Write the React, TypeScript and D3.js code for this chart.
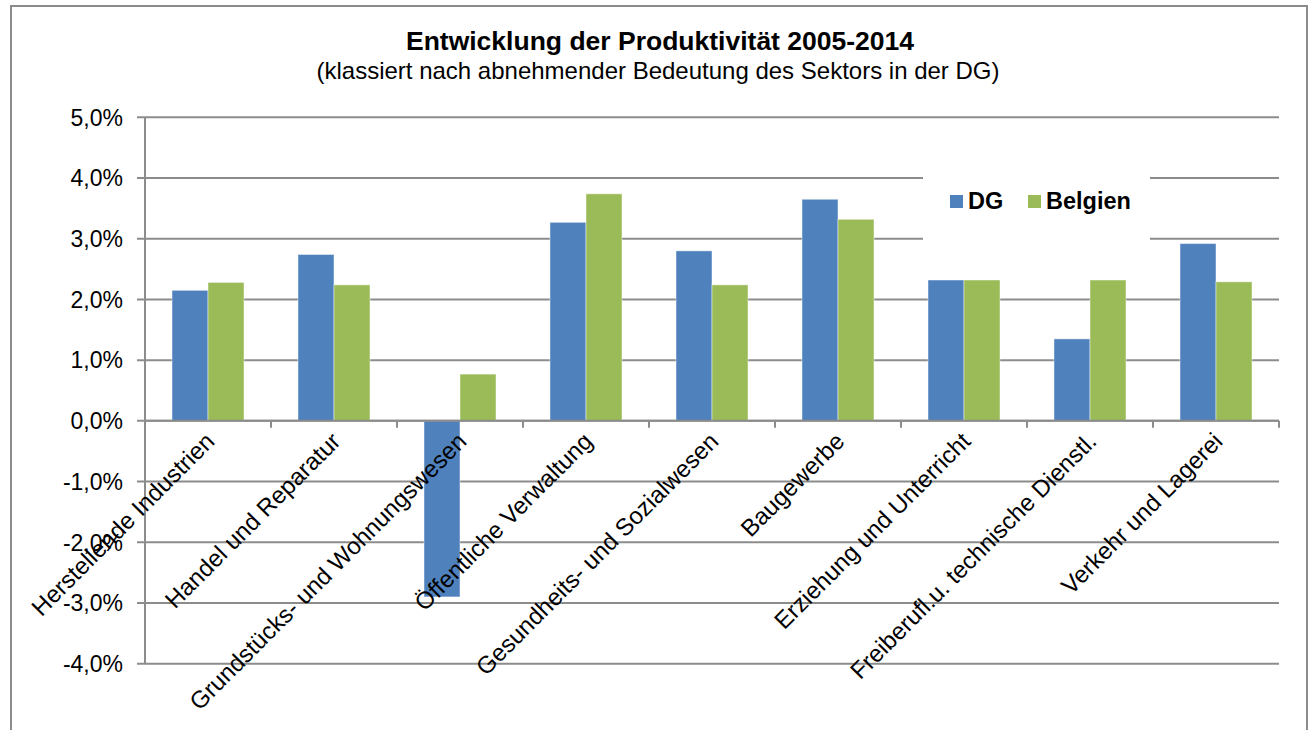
import React, { useEffect, useRef } from 'react';
import * as d3 from 'd3';

// Sektoren (klassiert nach abnehmender Bedeutung in der DG)
const categories = [
  'Herstellende Industrien',
  'Handel und Reparatur',
  'Grundstücks- und Wohnungswesen',
  'Öffentliche Verwaltung',
  'Gesundheits- und Sozialwesen',
  'Baugewerbe',
  'Erziehung und Unterricht',
  'Freiberufl.u. technische Dienstl.',
  'Verkehr und Lagerei',
];

const seriesNames = ['DG', 'Belgien'];
const dgValues = [2.15, 2.74, -2.9, 3.27, 2.8, 3.65, 2.32, 1.35, 2.92];
const belgienValues = [2.28, 2.24, 0.77, 3.74, 2.24, 3.32, 2.32, 2.32, 2.29];
const yTicks = [5, 4, 3, 2, 1, 0, -1, -2, -3, -4];

const colors = ['#4F81BD', '#9BBB59'];
const FONT = '"Liberation Sans", Arial, sans-serif';

const W = 1311;
const H = 730;

const Chart: React.FC = () => {
  const svgRef = useRef<SVGSVGElement | null>(null);

  useEffect(() => {
    if (!svgRef.current) return;
    const svg = d3.select(svgRef.current);
    svg.selectAll('*').remove();

    const left = 145;
    const right = 1279;
    const top = 117.3;
    const bottom = 663.7;

    const y = d3.scaleLinear().domain([-4, 5]).range([bottom, top]);
    const x0 = d3.scaleBand<string>().domain(categories).range([left, right]).padding(0);
    const x1 = d3
      .scaleBand<string>()
      .domain(seriesNames)
      .range([0, x0.bandwidth()])
      .paddingInner(0)
      .paddingOuter(0.75);

    // outer frame
    svg
      .append('rect')
      .attr('x', 11)
      .attr('y', 6)
      .attr('width', 1296)
      .attr('height', 760)
      .attr('fill', '#fff')
      .attr('stroke', '#8c8c8c')
      .attr('stroke-width', 2);

    // gridlines
    svg
      .append('g')
      .selectAll('line')
      .data(yTicks)
      .enter()
      .append('line')
      .attr('x1', left - 8)
      .attr('x2', right)
      .attr('y1', (d) => y(d))
      .attr('y2', (d) => y(d))
      .attr('stroke', '#8c8c8c')
      .attr('stroke-width', 2);

    // y axis line
    svg
      .append('line')
      .attr('x1', left)
      .attr('x2', left)
      .attr('y1', top)
      .attr('y2', bottom)
      .attr('stroke', '#8c8c8c')
      .attr('stroke-width', 2);

    // y tick labels
    svg
      .append('g')
      .selectAll('text')
      .data(yTicks)
      .enter()
      .append('text')
      .attr('x', 123)
      .attr('y', (d) => y(d))
      .attr('dy', '0.36em')
      .attr('text-anchor', 'end')
      .attr('font-family', FONT)
      .attr('font-size', 23)
      .attr('fill', '#000')
      .text((d) => d.toFixed(1).replace('.', ',') + '%');

    // bars
    const values = [dgValues, belgienValues];
    const group = svg
      .append('g')
      .selectAll('g')
      .data(categories)
      .enter()
      .append('g')
      .attr('transform', (d) => `translate(${x0(d)},0)`);

    group
      .selectAll('rect')
      .data((_, i) => seriesNames.map((s, k) => ({ s, v: values[k][i], k })))
      .enter()
      .append('rect')
      .attr('x', (d) => x1(d.s) as number)
      .attr('width', x1.bandwidth())
      .attr('y', (d) => y(Math.max(0, d.v)))
      .attr('height', (d) => Math.abs(y(d.v) - y(0)))
      .attr('fill', (d) => colors[d.k])
      .attr('stroke', 'rgba(255,255,255,0.45)')
      .attr('stroke-width', 1);

    // x axis at 0 with ticks
    svg
      .append('line')
      .attr('x1', left)
      .attr('x2', right)
      .attr('y1', y(0))
      .attr('y2', y(0))
      .attr('stroke', '#8c8c8c')
      .attr('stroke-width', 2);

    const boundaries = categories.map((c) => x0(c) as number).concat([right]);
    svg
      .append('g')
      .selectAll('line')
      .data(boundaries)
      .enter()
      .append('line')
      .attr('x1', (d) => d)
      .attr('x2', (d) => d)
      .attr('y1', y(0))
      .attr('y2', y(0) + 7)
      .attr('stroke', '#8c8c8c')
      .attr('stroke-width', 2);

    // category labels, rotated
    svg
      .append('g')
      .selectAll('text')
      .data(categories)
      .enter()
      .append('text')
      .attr('transform', (d) => {
        const cx = (x0(d) as number) + x0.bandwidth() / 2 + 8;
        const cy = y(0) + 22;
        return `translate(${cx},${cy}) rotate(-45)`;
      })
      .attr('text-anchor', 'end')
      .attr('font-family', FONT)
      .attr('font-size', 24)
      .attr('fill', '#000')
      .text((d) => d);

    // title
    svg
      .append('text')
      .attr('x', 660)
      .attr('y', 49.5)
      .attr('text-anchor', 'middle')
      .attr('font-family', FONT)
      .attr('font-size', 26.5)
      .attr('font-weight', 'bold')
      .text('Entwicklung der Produktivität 2005-2014');

    svg
      .append('text')
      .attr('x', 658)
      .attr('y', 79)
      .attr('text-anchor', 'middle')
      .attr('font-family', FONT)
      .attr('font-size', 24)
      .text('(klassiert nach abnehmender Bedeutung des Sektors in der DG)');

    // legend
    const legend = svg.append('g');
    legend
      .append('rect')
      .attr('x', 923)
      .attr('y', 165)
      .attr('width', 227)
      .attr('height', 77)
      .attr('fill', '#fff');

    const legendX = [950, 1028];
    seriesNames.forEach((s, k) => {
      legend
        .append('rect')
        .attr('x', legendX[k])
        .attr('y', 195)
        .attr('width', 13)
        .attr('height', 13)
        .attr('fill', colors[k]);
      legend
        .append('text')
        .attr('x', legendX[k] + 18)
        .attr('y', 209)
        .attr('font-family', FONT)
        .attr('font-size', 23.5)
        .attr('font-weight', 'bold')
        .text(s);
    });
  }, []);

  return <svg ref={svgRef} width={W} height={H} style={{ display: 'block' }}></svg>;
};

export default function App() {
  return (
    <div style={{ position: 'absolute', left: 0, top: 0, width: W, height: H, overflow: 'hidden', background: '#fff' }}>
      <Chart />
    </div>
  );
}
